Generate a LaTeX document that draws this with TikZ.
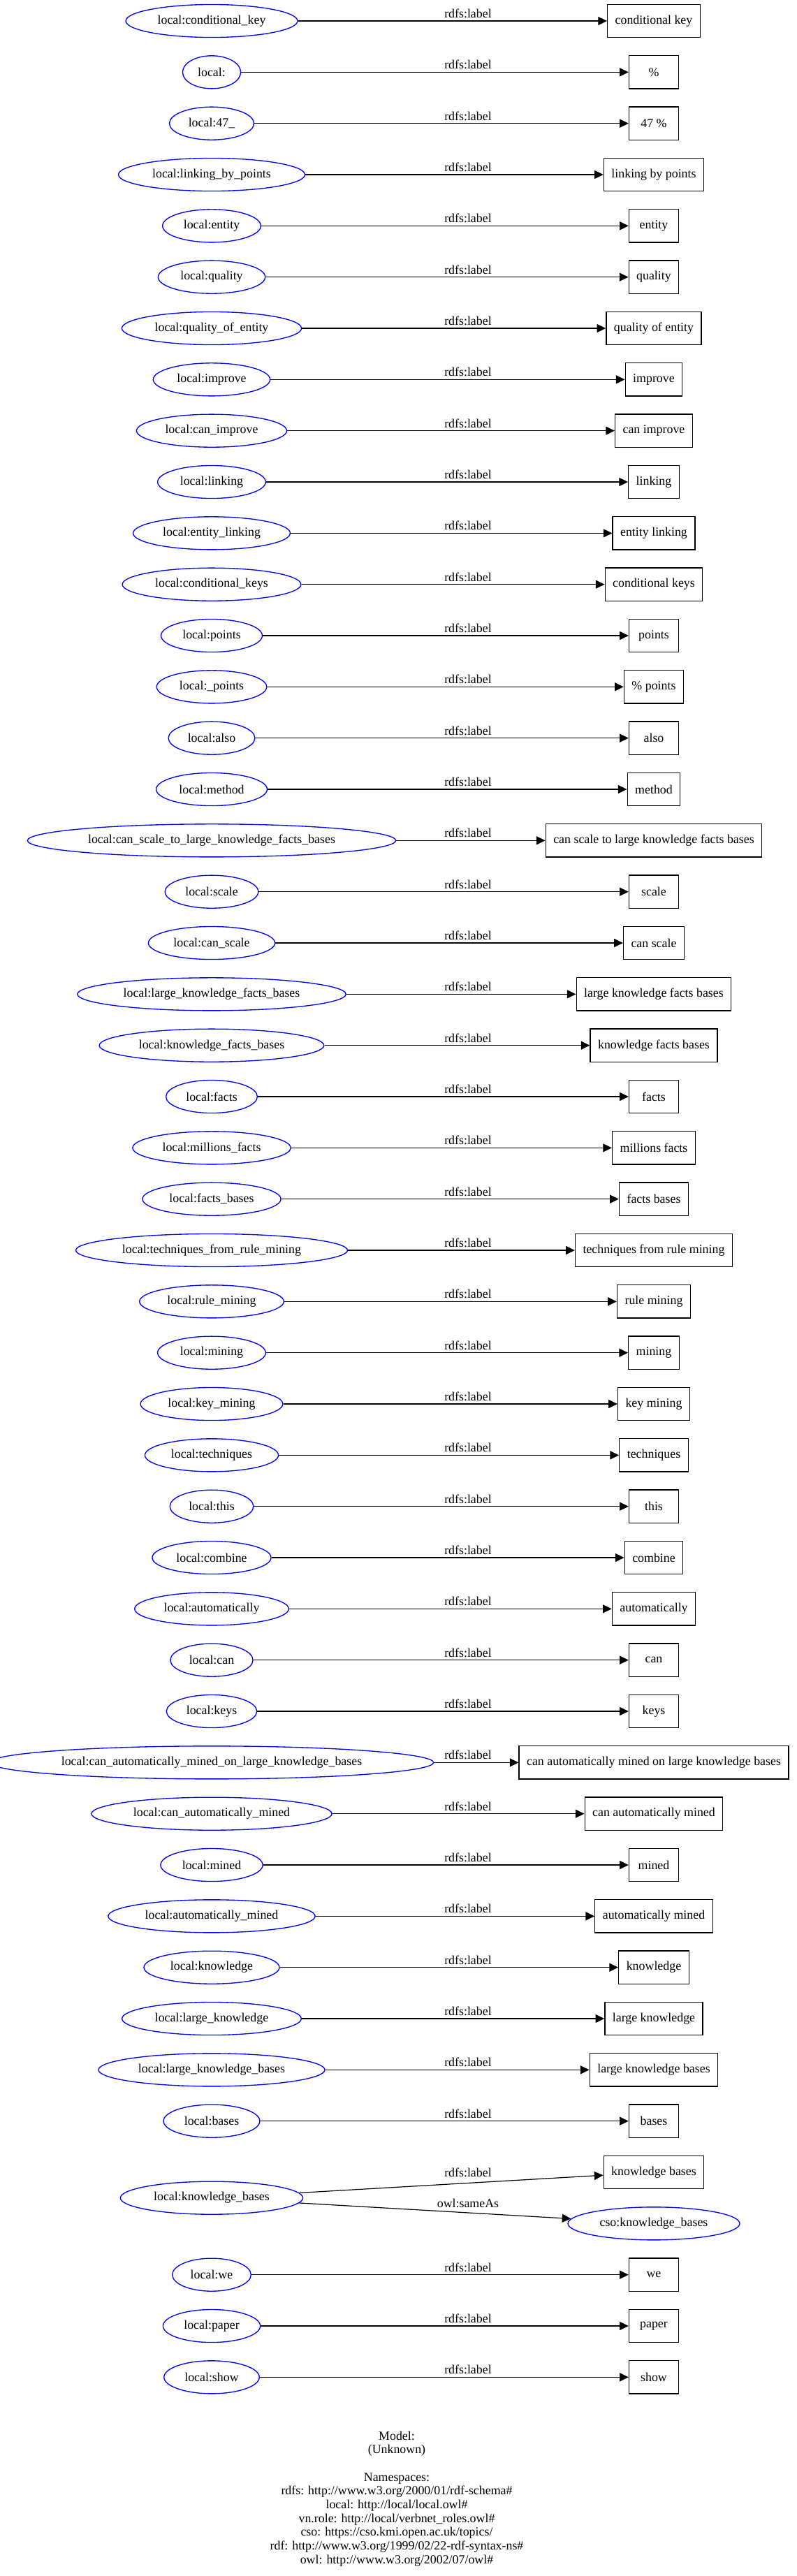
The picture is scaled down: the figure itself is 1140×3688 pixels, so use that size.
\documentclass[tikz,border=0pt]{standalone}
\usepackage{fontspec}
\setmainfont{Liberation Serif}
\usetikzlibrary{shapes.geometric,arrows.meta}
\newdimen\twlen
\newdimen\sepw
\newbox\measbox
\newcommand\gvfont{\fontsize{13.4pt}{14.6pt}\selectfont}
\newcommand\measurew[1]{%
  \setbox\measbox\hbox{\gvfont #1}%
  \twlen=1.31\wd\measbox \advance\twlen by 20.25pt
  \edef\ew{\the\twlen}%
  \sepw=-0.0368\wd\measbox \advance\sepw by 7.16pt
  \edef\es{\the\sepw}}
\begin{document}
\begin{tikzpicture}[x=0.75pt,y=-0.75pt,
  every node/.style={font=\gvfont},
  lit/.style={ellipse,draw=blue,line width=1pt,inner ysep=0pt,minimum height=35.3pt},
  lbox/.style={rectangle,draw=black,line width=1pt,inner xsep=8.25pt,inner ysep=0pt,minimum width=53.25pt,minimum height=35.5pt},
  edge/.style={draw=black,line width=0.9pt,-{Triangle[length=9.5pt,width=9pt]}},
  lab/.style={anchor=base,inner sep=0pt},
  foot/.style={anchor=base,inner sep=0pt}]
\useasboundingbox (0,0) rectangle (1140,3688);
\foreach \a/\b [count=\i from 0] in {
 {local:conditional\_key}/{conditional key},
 {local:}/{\%},
 {local:47\_}/{47 \%},
 {local:linking\_by\_points}/{linking by points},
 {local:entity}/{entity},
 {local:quality}/{quality},
 {local:quality\_of\_entity}/{quality of entity},
 {local:improve}/{improve},
 {local:can\_improve}/{can improve},
 {local:linking}/{linking},
 {local:entity\_linking}/{entity linking},
 {local:conditional\_keys}/{conditional keys},
 {local:points}/{points},
 {local:\_points}/{\% points},
 {local:also}/{also},
 {local:method}/{method},
 {local:can\_scale\_to\_large\_knowledge\_facts\_bases}/{can scale to large knowledge facts bases},
 {local:scale}/{scale},
 {local:can\_scale}/{can scale},
 {local:large\_knowledge\_facts\_bases}/{large knowledge facts bases},
 {local:knowledge\_facts\_bases}/{knowledge facts bases},
 {local:facts}/{facts},
 {local:millions\_facts}/{millions facts},
 {local:facts\_bases}/{facts bases},
 {local:techniques\_from\_rule\_mining}/{techniques from rule mining},
 {local:rule\_mining}/{rule mining},
 {local:mining}/{mining},
 {local:key\_mining}/{key mining},
 {local:techniques}/{techniques},
 {local:this}/{this},
 {local:combine}/{combine},
 {local:automatically}/{automatically},
 {local:can}/{can},
 {local:keys}/{keys},
 {local:can\_automatically\_mined\_on\_large\_knowledge\_bases}/{can automatically mined on large knowledge bases},
 {local:can\_automatically\_mined}/{can automatically mined},
 {local:mined}/{mined},
 {local:automatically\_mined}/{automatically mined},
 {local:knowledge}/{knowledge},
 {local:large\_knowledge}/{large knowledge},
 {local:large\_knowledge\_bases}/{large knowledge bases},
 {local:bases}/{bases}}{
  \pgfmathsetmacro\yy{30+73.33333*\i}
  \measurew{\a}
  \node[lit,inner xsep=\es,minimum width=\ew] (l\i) at (303,\yy) {\a};
  \node[lbox] (r\i) at (936,\yy) {\b};
  \draw[edge] (l\i) -- (r\i);
  \node[lab] (e\i) at (670,\yy-4.5) {rdfs:label};
}
% knowledge_bases row
\measurew{local:knowledge\_bases}
\node[lit,inner xsep=\es,minimum width=\ew] (l42) at (303,3146.67) {local:knowledge\_bases};
\node[lbox] (r42) at (936,3110) {knowledge bases};
\measurew{cso:knowledge\_bases}
\node[lit,inner xsep=\es,minimum width=\ew] (c42) at (936,3183.33) {cso:knowledge\_bases};
\draw[edge] (l42) -- (r42);
\draw[edge] (l42) -- (c42);
\node[lab] (e42) at (670,3116.5) {rdfs:label};
\node[lab] (o42) at (670,3160) {owl:sameAs};
\foreach \a/\b [count=\i from 44] in {
 {local:we}/{we},
 {local:paper}/{paper},
 {local:show}/{show}}{
  \pgfmathsetmacro\yy{30+73.33333*\i}
  \measurew{\a}
  \node[lit,inner xsep=\es,minimum width=\ew] (l\i) at (303,\yy) {\a};
  \node[lbox] (r\i) at (936,\yy) {\b};
  \draw[edge] (l\i) -- (r\i);
  \node[lab] (e\i) at (670,\yy-4.5) {rdfs:label};
}
% footer
\node[foot] (f1) at (568,3493) {Model:};
\node[foot] (f2) at (568,3512.7) {(Unknown)};
\node[foot] (f3) at (568,3552) {Namespaces:};
\node[foot] (f4) at (568,3571.7) {rdfs: http://www.w3.org/2000/01/rdf-schema\#};
\node[foot] (f5) at (568,3591.3) {local: http://local/local.owl\#};
\node[foot] (f6) at (568,3611) {vn.role: http://local/verbnet\_roles.owl\#};
\node[foot] (f7) at (568,3630.6) {cso: https://cso.kmi.open.ac.uk/topics/};
\node[foot] (f8) at (568,3650.3) {rdf: http://www.w3.org/1999/02/22-rdf-syntax-ns\#};
\node[foot] (f9) at (568,3670) {owl: http://www.w3.org/2002/07/owl\#};
\end{tikzpicture}
\end{document}
